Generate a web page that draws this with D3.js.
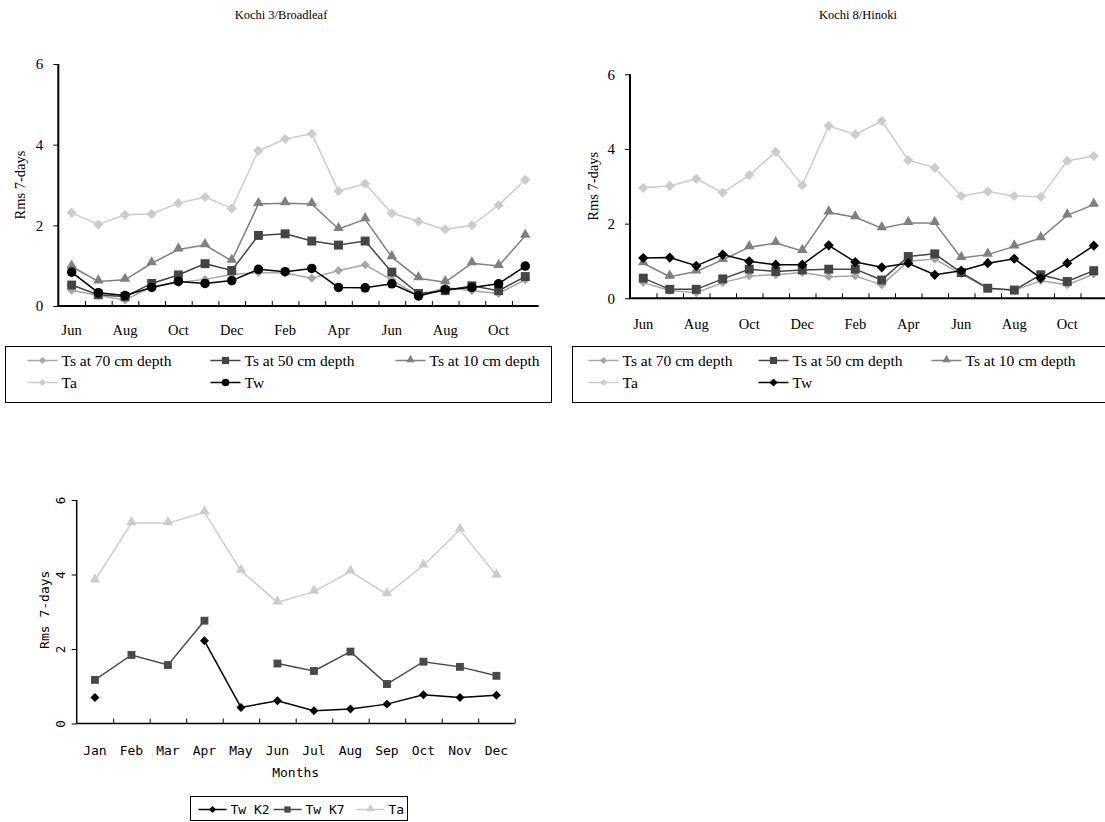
<!DOCTYPE html>
<html>
<head>
<meta charset="utf-8">
<style>
  body { margin: 0; background: #fff; }
  svg text { font-family: "Liberation Serif", "Times New Roman", serif; fill: #000; }
  svg .mono text, svg text.mono { font-family: "DejaVu Sans Mono", monospace; }
</style>
</head>
<body>
<svg width="1105" height="822"></svg>
<script src="https://d3js.org/d3.v7.min.js"></script>
<script>

    // 18 months, Jun .. Nov of the following year
    var monthsTop = ["Jun", "Jul", "Aug", "Sep", "Oct", "Nov", "Dec", "Jan", "Feb",
                     "Mar", "Apr", "May", "Jun", "Jul", "Aug", "Sep", "Oct", "Nov"];

    // Kochi 3 / Broadleaf
    var k3Ts70 = [0.39, 0.26, 0.15, 0.47, 0.58, 0.66, 0.78, 0.83, 0.82, 0.69, 0.88, 1.02, 0.65, 0.25, 0.46, 0.38, 0.31, 0.65];
    var k3Ts50 = [0.52, 0.28, 0.23, 0.56, 0.77, 1.05, 0.88, 1.75, 1.79, 1.61, 1.51, 1.61, 0.84, 0.31, 0.38, 0.50, 0.38, 0.73];
    var k3Ts10 = [0.98, 0.61, 0.65, 1.06, 1.40, 1.51, 1.12, 2.53, 2.55, 2.53, 1.91, 2.15, 1.21, 0.69, 0.59, 1.06, 0.99, 1.74];
    var k3Ta   = [2.31, 2.02, 2.26, 2.28, 2.55, 2.70, 2.42, 3.85, 4.14, 4.27, 2.85, 3.03, 2.30, 2.10, 1.90, 2.00, 2.50, 3.13];
    var k3Tw   = [0.84, 0.33, 0.26, 0.46, 0.61, 0.56, 0.63, 0.91, 0.85, 0.93, 0.46, 0.45, 0.55, 0.25, 0.41, 0.46, 0.55, 0.99];

    // Kochi 8 / Hinoki
    var k8Ts70 = [0.42, 0.21, 0.15, 0.42, 0.60, 0.63, 0.69, 0.58, 0.60, 0.36, 0.99, 1.05, 0.65, 0.27, 0.21, 0.47, 0.36, 0.65];
    var k8Ts50 = [0.54, 0.24, 0.24, 0.52, 0.78, 0.72, 0.76, 0.78, 0.78, 0.49, 1.12, 1.19, 0.69, 0.27, 0.22, 0.63, 0.45, 0.74];
    var k8Ts10 = [0.94, 0.58, 0.72, 1.03, 1.37, 1.48, 1.27, 2.30, 2.17, 1.88, 2.02, 2.02, 1.08, 1.17, 1.39, 1.61, 2.22, 2.51];
    var k8Ta   = [2.96, 3.01, 3.20, 2.83, 3.30, 3.92, 3.03, 4.62, 4.39, 4.75, 3.70, 3.50, 2.74, 2.86, 2.74, 2.72, 3.68, 3.81];
    var k8Tw   = [1.08, 1.09, 0.87, 1.17, 0.99, 0.90, 0.90, 1.42, 0.97, 0.83, 0.94, 0.63, 0.74, 0.94, 1.06, 0.54, 0.94, 1.41];

    // monthly means, bottom chart (null = no value)
    var monthsBottom = ["Jan", "Feb", "Mar", "Apr", "May", "Jun", "Jul", "Aug", "Sep", "Oct", "Nov", "Dec"];
    var twK2 = [0.70, null, null, 2.22, 0.43, 0.61, 0.34, 0.39, 0.52, 0.77, 0.70, 0.76];
    var twK7 = [1.17, 1.84, 1.57, 2.76, null, 1.61, 1.41, 1.93, 1.06, 1.66, 1.52, 1.28];
    var taB  = [3.84, 5.38, 5.38, 5.67, 4.10, 3.25, 3.54, 4.08, 3.47, 4.24, 5.20, 3.97];

    var yTicks = [0, 2, 4, 6];

    var svg = d3.select("svg");

    function marker(sel, shape, color) {
        var p = sel.append("path").attr("fill", color).attr("stroke", "none");
        if (shape == "diamond") p.attr("d", d3.symbol().type(d3.symbolSquare).size(40)()).attr("transform", "rotate(45)");
        else if (shape == "diamondBig") p.attr("d", d3.symbol().type(d3.symbolSquare).size(52)()).attr("transform", "rotate(45)");
        else if (shape == "square") p.attr("d", d3.symbol().type(d3.symbolSquare).size(80)());
        else if (shape == "squareSm") p.attr("d", d3.symbol().type(d3.symbolSquare).size(62)());
        else if (shape == "triangle") p.attr("d", d3.symbol().type(d3.symbolTriangle).size(48)()).attr("transform", "translate(0,-1)");
        else if (shape == "circle") p.attr("d", d3.symbol().type(d3.symbolCircle).size(72)());
        return p;
    }

    function series(g, x, y, values, shape, color, width) {
        var line = d3.line()
            .defined(function(d) { return d != null; })
            .x(function(d, i) { return x(i) + x.bandwidth() / 2; })
            .y(function(d) { return y(d); });
        g.append("path")
            .datum(values)
            .attr("fill", "none")
            .attr("stroke", color)
            .attr("stroke-width", width || 1.5)
            .attr("d", line);
        values.forEach(function(d, i) {
            if (d == null) return;
            var m = g.append("g").attr("transform", "translate(" + (x(i) + x.bandwidth() / 2) + "," + y(d) + ")");
            marker(m, shape, color);
        });
    }

    function topPanel(opt) {
        var g = svg.append("g").attr("transform", "translate(" + opt.left + "," + opt.top + ")");
        var x = d3.scaleBand().domain(d3.range(monthsTop.length)).range([0, opt.width]);
        var xEdge = d3.scaleLinear().domain([0, monthsTop.length]).range([0, opt.width]);
        var y = d3.scaleLinear().domain([0, 6]).range([opt.height, 0]);

        // y axis
        var ya = g.append("g")
            .call(d3.axisLeft(y).tickValues(yTicks).tickSize(5).tickPadding(10).tickFormat(d3.format("d")));
        ya.select(".domain").attr("stroke-width", 2).attr("d", "M0," + opt.height + "V0");
        ya.selectAll("text").style("font-size", "15px").style("font-family", "Liberation Serif");

        // x axis: inward ticks at month boundaries
        var xa = g.append("g")
            .attr("transform", "translate(0," + opt.height + ")")
            .call(d3.axisBottom(xEdge).tickValues(d3.range(1, monthsTop.length)).tickSize(-5).tickFormat(""));
        xa.select(".domain").attr("stroke-width", 2).attr("d", "M-1,0H" + opt.width);

        var xl = g.append("g")
            .attr("transform", "translate(0," + opt.height + ")")
            .call(d3.axisBottom(x).tickValues(d3.range(0, monthsTop.length, 2)).tickSize(0).tickPadding(opt.labelPad)
                .tickFormat(function(i) { return monthsTop[i]; }));
        xl.select(".domain").remove();
        xl.selectAll("text").style("font-size", "14.5px").style("font-family", "Liberation Serif");

        g.append("text")
            .attr("transform", "translate(" + opt.yTitleX + "," + (opt.height / 2) + ") rotate(-90)")
            .attr("text-anchor", "middle")
            .attr("dy", "0.35em")
            .style("font-size", "14.5px")
            .text("Rms 7-days");

        svg.append("text")
            .attr("x", opt.titleX).attr("y", 19)
            .attr("text-anchor", "middle")
            .style("font-size", "12.5px")
            .text(opt.title);

        series(g, x, y, opt.ts70, "diamond", "#a6a6a6", 1.5);
        series(g, x, y, opt.ta, "diamondBig", "#cccccc", 1.5);
        series(g, x, y, opt.ts10, "triangle", "#808080", 1.5);
        series(g, x, y, opt.ts50, "square", "#454545", 1.5);
        series(g, x, y, opt.tw, opt.twShape, "#000000", 1.5);

        // legend
        var lg = svg.append("g").attr("transform", "translate(" + opt.legX + "," + opt.legY + ")");
        lg.append("rect").attr("width", opt.legW).attr("height", 56)
            .attr("fill", "none").attr("stroke", "#000").attr("stroke-width", 1);
        var items = [
            {name: "Ts at 70 cm depth", shape: "diamond", color: "#a6a6a6", col: 0, row: 0},
            {name: "Ts at 50 cm depth", shape: "square", color: "#454545", col: 1, row: 0},
            {name: "Ts at 10 cm depth", shape: "triangle", color: "#808080", col: 2, row: 0},
            {name: "Ta", shape: "diamond", color: "#cccccc", col: 0, row: 1},
            {name: "Tw", shape: opt.twShape, color: "#000000", col: 1, row: 1}
        ];
        items.forEach(function(it) {
            var ig = lg.append("g").attr("transform", "translate(" + opt.legCols[it.col] + "," + (14 + it.row * 22) + ")");
            ig.append("line").attr("x1", 0).attr("x2", 30).attr("stroke", it.color).attr("stroke-width", 1.5);
            var m = ig.append("g").attr("transform", "translate(15,0) scale(0.8)");
            marker(m, it.shape, it.color);
            ig.append("text").attr("x", 34).attr("dy", "0.35em").style("font-size", "15.5px").text(it.name);
        });
    }

    topPanel({
        left: 58.3, top: 64, width: 480.3, height: 242, labelPad: 19, yTitleX: -38,
        title: "Kochi 3/Broadleaf", titleX: 281,
        ts70: k3Ts70, ts50: k3Ts50, ts10: k3Ts10, ta: k3Ta, tw: k3Tw, twShape: "circle",
        legX: 5.5, legY: 346.5, legW: 546, legCols: [22, 205, 390]
    });

    topPanel({
        left: 630, top: 74.3, width: 477, height: 224, labelPad: 20, yTitleX: -37,
        title: "Kochi 8/Hinoki", titleX: 858,
        ts70: k8Ts70, ts50: k8Ts50, ts10: k8Ts10, ta: k8Ta, tw: k8Tw, twShape: "diamondBig",
        legX: 572.5, legY: 346.5, legW: 545, legCols: [16, 186, 359]
    });

    // bottom chart
    var bw = 438, bh = 223.5;
    var gb = svg.append("g").attr("class", "mono").attr("transform", "translate(76.7,500)");
    var xb = d3.scaleBand().domain(d3.range(monthsBottom.length)).range([0, bw]);
    var xbEdge = d3.scaleLinear().domain([0, monthsBottom.length]).range([0, bw]);
    var yb = d3.scaleLinear().domain([0, 6]).range([bh, 0]);

    var yba = gb.append("g").call(d3.axisLeft(yb).tickValues(yTicks).tickSize(5).tickPadding(0).tickFormat(d3.format("d")));
    yba.select(".domain").attr("stroke-width", 1.5).attr("d", "M0," + bh + "V0");
    yba.selectAll("text")
        .attr("x", null).attr("dy", null)
        .attr("text-anchor", "middle")
        .attr("transform", "translate(-16,0) rotate(-90)")
        .attr("dy", "0.35em")
        .style("font-size", "12.5px");

    var xba = gb.append("g").attr("transform", "translate(0," + bh + ")")
        .call(d3.axisBottom(xbEdge).tickValues(d3.range(1, monthsBottom.length + 1)).tickSize(-5).tickFormat(""));
    xba.select(".domain").attr("stroke-width", 1.5).attr("d", "M0,0H" + bw);

    var xbl = gb.append("g").attr("transform", "translate(0," + bh + ")")
        .call(d3.axisBottom(xb).tickSize(0).tickPadding(22).tickFormat(function(i) { return monthsBottom[i]; }));
    xbl.select(".domain").remove();
    xbl.selectAll("text").style("font-size", "13px");

    gb.append("text")
        .attr("x", bw / 2).attr("y", bh + 53)
        .attr("text-anchor", "middle")
        .style("font-size", "13px")
        .text("Months");

    gb.append("text")
        .attr("transform", "translate(-32," + (bh / 2 - 2) + ") rotate(-90)")
        .attr("text-anchor", "middle")
        .attr("dy", "0.35em")
        .style("font-size", "13px")
        .text("Rms 7-days");

    series(gb, xb, yb, taB, "triangle", "#cccccc", 1.5);
    series(gb, xb, yb, twK7, "squareSm", "#4a4a4a", 1.5);
    series(gb, xb, yb, twK2, "diamond", "#000000", 1.5);

    var lb = svg.append("g").attr("class", "mono").attr("transform", "translate(190.5,796.5)");
    lb.append("rect").attr("width", 217).attr("height", 24).attr("fill", "none").attr("stroke", "#000");
    var bItems = [
        {name: "Tw K2", shape: "diamond", color: "#000000", x: 8},
        {name: "Tw K7", shape: "squareSm", color: "#4a4a4a", x: 83},
        {name: "Ta", shape: "triangle", color: "#cccccc", x: 166}
    ];
    bItems.forEach(function(it) {
        var ig = lb.append("g").attr("transform", "translate(" + it.x + ",13)");
        ig.append("line").attr("x1", 0).attr("x2", 28).attr("stroke", it.color).attr("stroke-width", 1.5);
        marker(ig.append("g").attr("transform", "translate(14,0) scale(0.8)"), it.shape, it.color);
        ig.append("text").attr("x", 32).attr("dy", "0.35em").style("font-size", "13px").text(it.name);
    });

</script>
</body>
</html>
